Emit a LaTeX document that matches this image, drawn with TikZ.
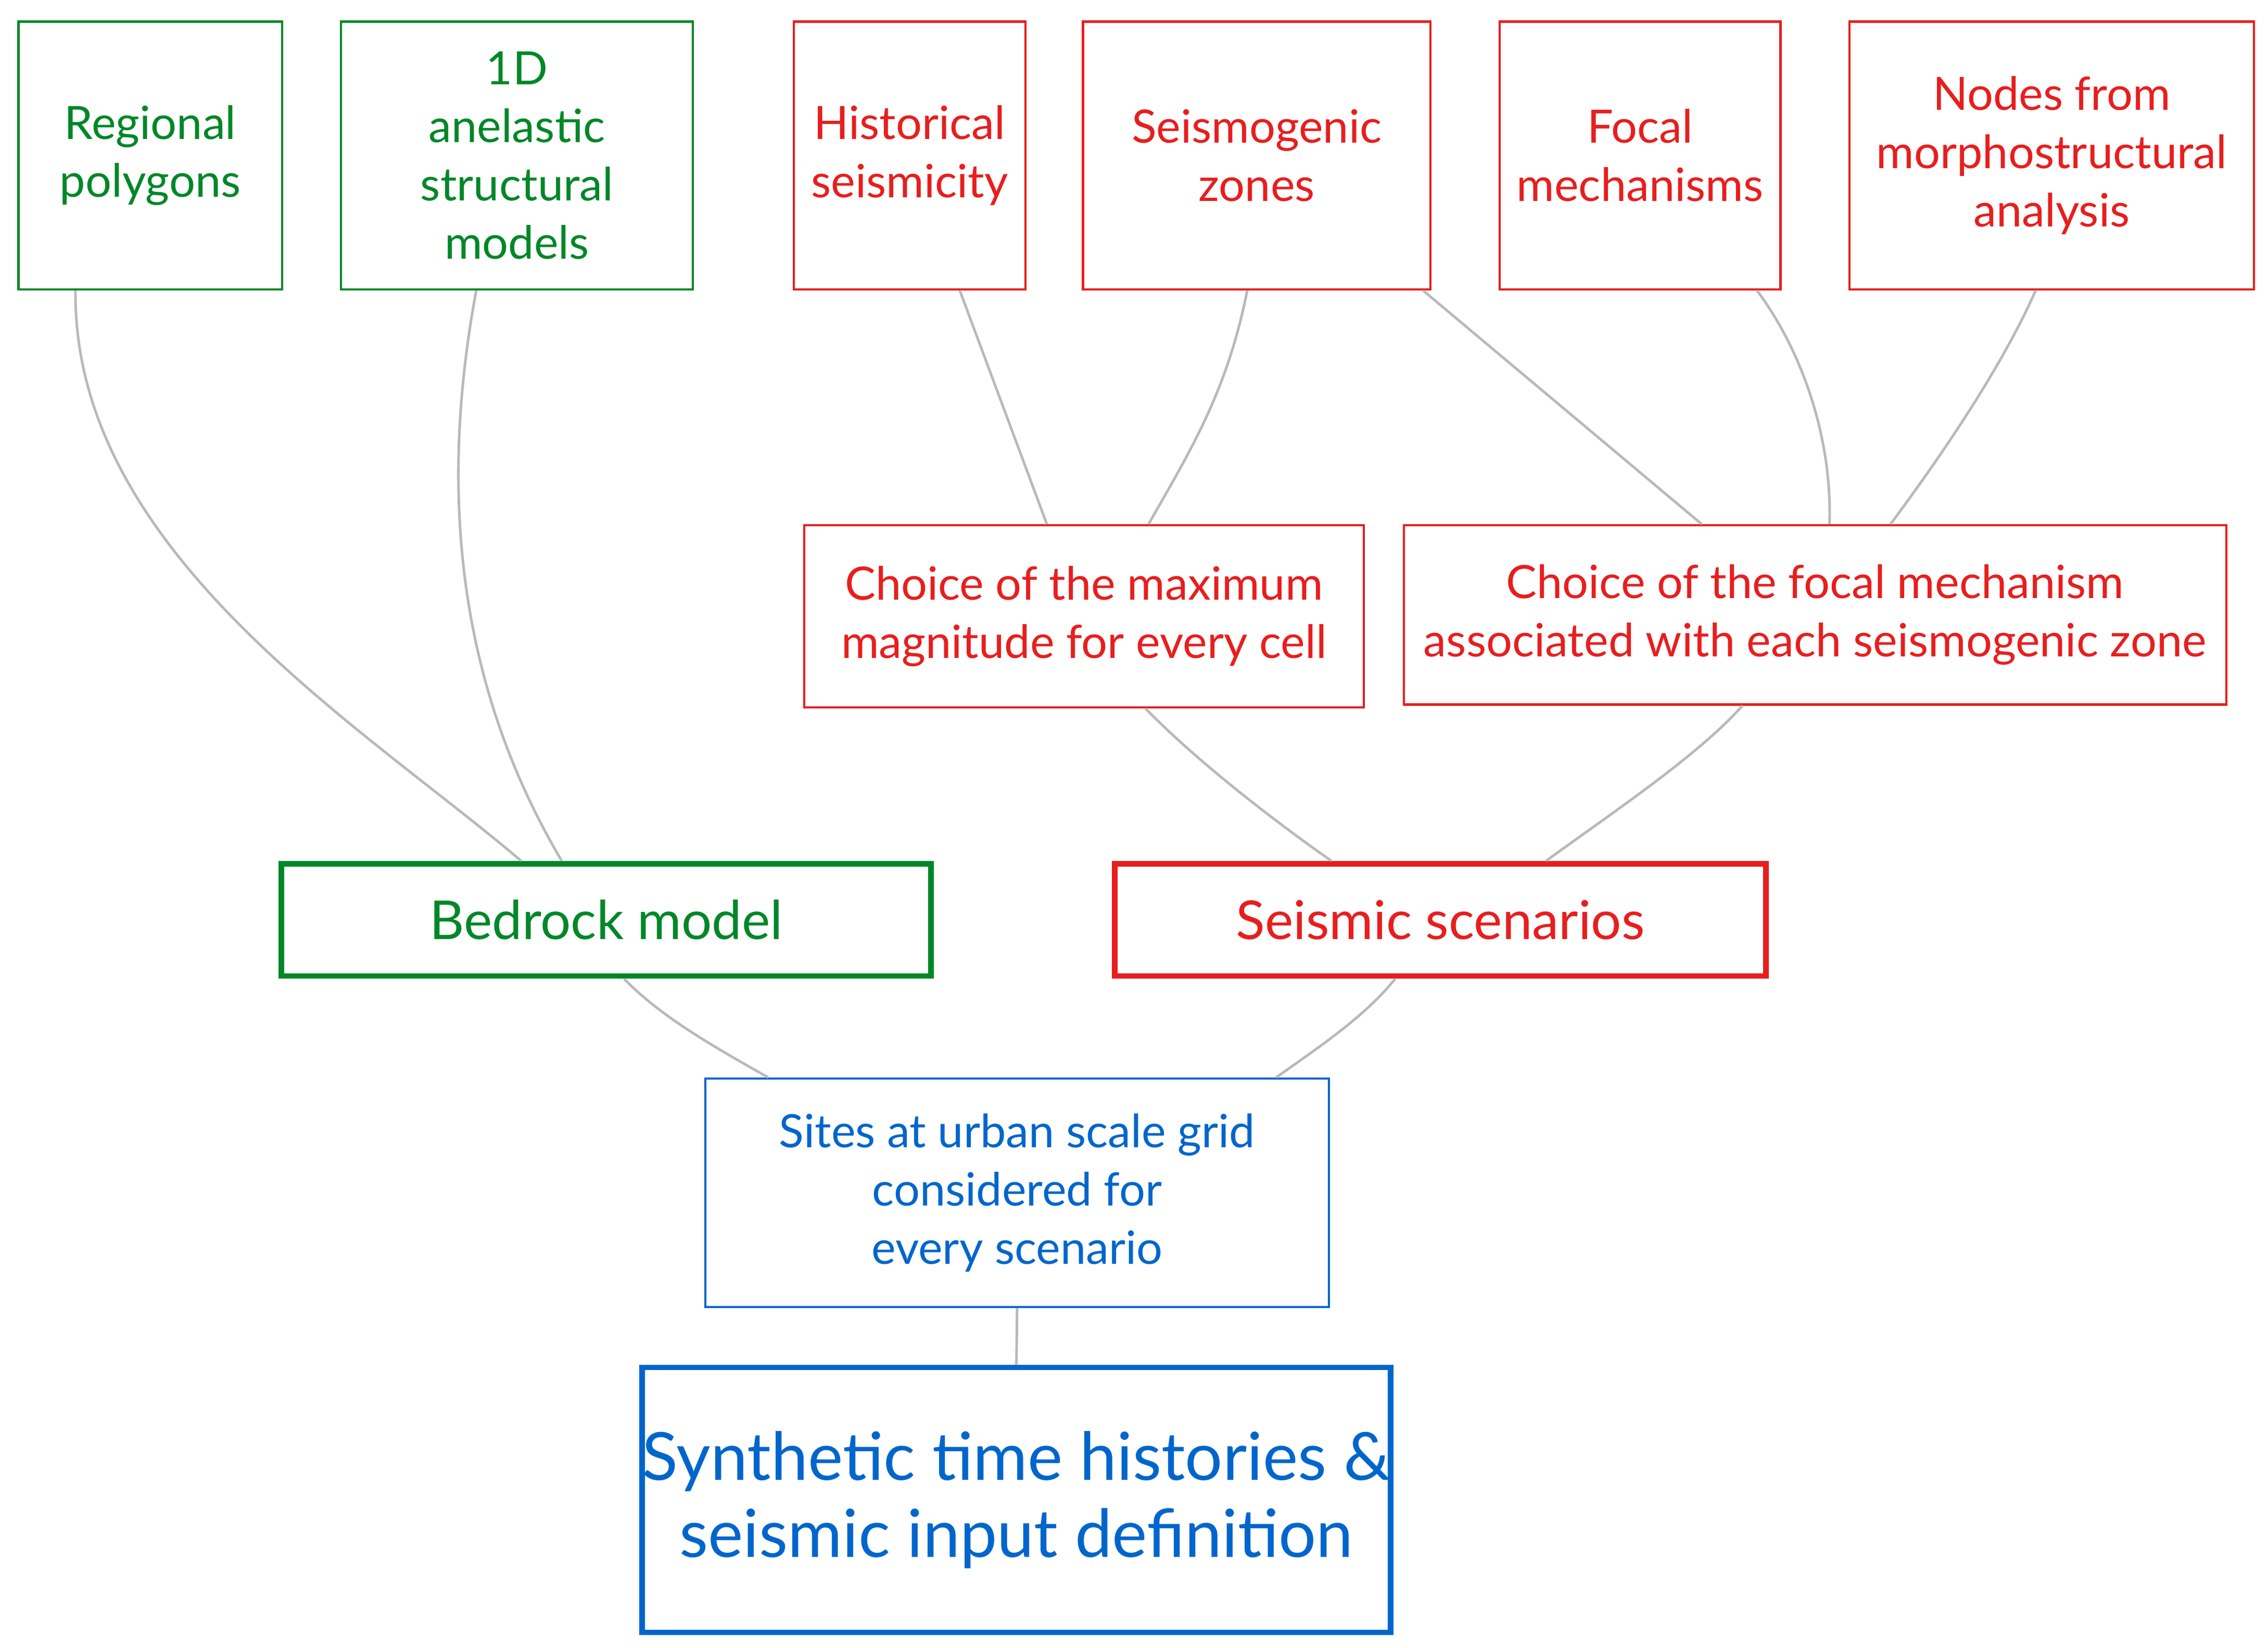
\documentclass[tikz,border=0pt]{standalone}
\usepackage{fontspec}
\setmainfont{Lato}
\begin{document}
\definecolor{gr}{RGB}{0,135,40}
\definecolor{rd}{RGB}{232,30,30}
\definecolor{bl}{RGB}{0,102,204}
\definecolor{ln}{RGB}{185,185,185}
\begin{tikzpicture}[x=0.1mm,y=-0.1mm,
 box/.style={draw,line width=0.45pt,align=center,inner sep=0pt,font=\fontsize{9}{11.4}\selectfont},
 g/.style={box,gr,text=gr}, r/.style={box,rd,text=rd}, b/.style={box,bl,text=bl},
 big/.style={line width=1.1pt,font=\fontsize{10.5}{12}\selectfont},
 huge/.style={line width=1.1pt,font=\fontsize{13}{15}\selectfont},
 con/.style={ln,line width=0.5pt}]
\useasboundingbox (0,0) rectangle (1562,1135);
\newcommand{\bx}[6]{\node[#1,minimum width=#4*0.1mm-0.45pt,minimum height=#5*0.1mm-0.45pt] (#2) at (#3) {#6};}
\bx{g}{reg}{103.5,107}{183}{186}{Regional\\polygons}
\bx{g}{oned}{356,107}{244}{186}{1D\\anelastic\\structural\\models}
\bx{r}{his}{626.5,107}{161}{186}{Historical\\seismicity}
\bx{r}{seis}{865.5,107}{241}{186}{Seismogenic\\zones}
\bx{r}{foc}{1129.5,107}{195}{186}{Focal\\mechanisms}
\bx{r}{nod}{1413,107}{280}{186}{Nodes from\\morphostructural\\analysis}
\bx{r}{cmax}{746.5,424.5}{387}{127}{Choice of the maximum\\magnitude for every cell}
\bx{r}{cfoc}{1250,423.5}{568}{125}{Choice of the focal mechanism\\associated with each seismogenic zone}
\bx{g,big}{bed}{417.5,633.5}{449}{79}{Bedrock model}
\bx{r,big}{scen}{992,633.5}{450}{79}{Seismic scenarios}
\bx{b}{site}{700.5,821.5}{431}{159}{Sites at urban scale grid\\considered for\\every scenario}
\bx{b,huge}{syn}{700,1033}{494}{184}{Synthetic time histories \&\\seismic input definition}
\draw[con] ([xshift=4mm]reg.south west) .. controls (50,380) and (250,500) .. ([xshift=16.7mm]bed.north west);
\draw[con] ([xshift=9.4mm]oned.south west) .. controls (300,350) and (320,480) .. ([xshift=19.5mm]bed.north west);
\draw[con] ([xshift=11.5mm]his.south west) -- ([xshift=16.8mm]cmax.north west);
\draw[con] ([xshift=11.4mm]seis.south west) .. controls (845,270) and (820,310) .. ([xshift=23.8mm]cmax.north west);
\draw[con] ([xshift=-0.6mm]seis.south east) -- ([xshift=20.6mm]cfoc.north west);
\draw[con] ([xshift=17.8mm]foc.south west) .. controls (1240,240) and (1262,300) .. ([xshift=29.4mm]cfoc.north west);
\draw[con] ([xshift=12.9mm]nod.south west) .. controls (1380,250) and (1340,310) .. ([xshift=33.6mm]cfoc.north west);
\draw[con] ([xshift=23.6mm]cmax.south west) .. controls (820,520) and (870,560) .. ([xshift=15.1mm]scen.north west);
\draw[con] ([xshift=23.4mm]cfoc.south west) .. controls (1170,520) and (1110,560) .. ([xshift=29.9mm]scen.north west);
\draw[con] ([xshift=23.8mm]bed.south west) .. controls (455,700) and (490,720) .. ([xshift=4.4mm]site.north west);
\draw[con] ([xshift=19.5mm]scen.south west) .. controls (940,700) and (910,720) .. ([xshift=39.4mm]site.north west);
\draw[con] (site.south) -- (syn.north);
\end{tikzpicture}
\end{document}
